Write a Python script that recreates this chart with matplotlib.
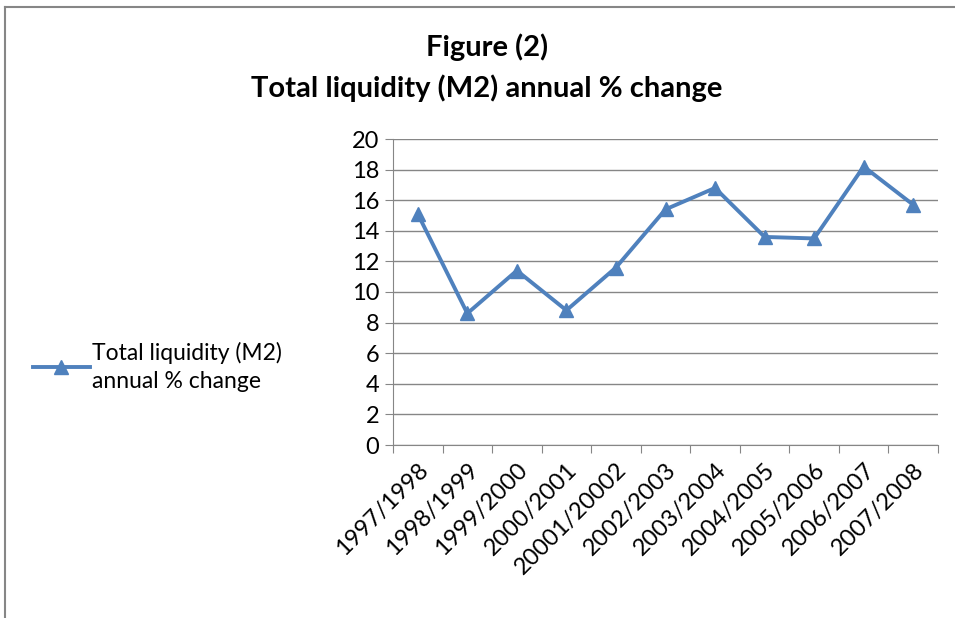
import matplotlib.pyplot as plt
from matplotlib.lines import Line2D

plt.rcParams['font.family'] = ['Lato', 'DejaVu Sans']

# data
years = ['1997/1998', '1998/1999', '1999/2000', '2000/2001', '20001/20002',
         '2002/2003', '2003/2004', '2004/2005', '2005/2006', '2006/2007', '2007/2008']
m2_change = [15.1, 8.6, 11.4, 8.8, 11.6, 15.4, 16.8, 13.6, 13.5, 18.2, 15.7]
series_name = 'Total liquidity (M2)\nannual % change'

blue = '#4F81BD'
grey = '#868686'

fig = plt.figure(figsize=(9.55, 6.18), dpi=100)
ax = fig.add_axes([393 / 955, 1 - 445 / 618, (938 - 393) / 955, (445 - 139) / 618])

pos = list(range(len(years)))
ax.plot(pos, m2_change, color=blue, linewidth=2.8, marker='^', markersize=10)

ax.set_xlim(-0.5, len(years) - 0.5)
ax.set_ylim(0, 20)
ax.set_yticks(range(0, 21, 2))
ax.yaxis.grid(True, color=grey, linewidth=1)
ax.set_axisbelow(True)

ax.set_xticks([p + 0.5 for p in pos[:-1]] + [-0.5, len(years) - 0.5])
ax.set_xticklabels([])
ax.set_xticks(pos, minor=True)
ax.set_xticklabels(years, minor=True, rotation=45, ha='right', va='top',
                   rotation_mode='anchor', fontsize=17)
ax.tick_params(axis='x', which='minor', length=0, pad=10)
ax.tick_params(axis='x', which='major', length=6, color=grey, direction='out')
ax.tick_params(axis='y', length=6, color=grey, labelsize=17, pad=4)

for s in ['top', 'right']:
    ax.spines[s].set_visible(False)
for s in ['left', 'bottom']:
    ax.spines[s].set_color(grey)

fig.text(487 / 955, 1 - 47 / 618, 'Figure (2)', ha='center', va='center',
         fontsize=21, fontweight='bold')
fig.text(487 / 955, 1 - 88 / 618, 'Total liquidity (M2) annual % change',
         ha='center', va='center', fontsize=21, fontweight='bold')

handle = Line2D([], [], color=blue, linewidth=2.8, marker='^', markersize=10)
leg = fig.legend([handle], [series_name], loc='center left',
                 bbox_to_anchor=(12 / 955, 1 - 367 / 618), frameon=False,
                 fontsize=16.5, handlelength=2.5, handletextpad=0.1)
for t in leg.get_texts():
    t.set_linespacing(1.45)

# outer frame (left and top edges visible)
fig.add_artist(Line2D([5 / 955, 5 / 955], [0, 1 - 7 / 618], color=grey, linewidth=1.5,
                      transform=fig.transFigure))
fig.add_artist(Line2D([5 / 955, 1], [1 - 7 / 618, 1 - 7 / 618], color=grey, linewidth=1.5,
                      transform=fig.transFigure))

fig.savefig('out.png', dpi=100)
